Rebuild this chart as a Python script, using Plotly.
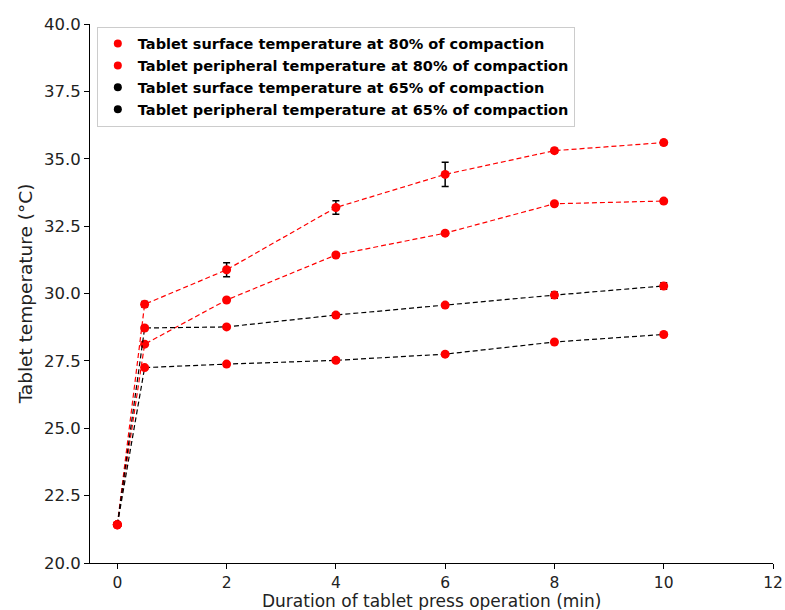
import plotly.graph_objects as go

# Sampling times (min)
time_min = [0, 0.5, 2, 4, 6, 8, 10]

# Mean temperatures (°C) and standard deviations
surface_80 = [21.42, 29.60, 30.88, 33.19, 34.42, 35.30, 35.60]
surface_80_sd = [0.05, 0.10, 0.26, 0.25, 0.45, 0.08, 0.08]

peripheral_80 = [21.42, 28.12, 29.76, 31.43, 32.24, 33.33, 33.43]
peripheral_80_sd = [0.05, 0.07, 0.07, 0.06, 0.06, 0.07, 0.07]

surface_65 = [21.42, 28.72, 28.76, 29.20, 29.57, 29.94, 30.28]
surface_65_sd = [0.05, 0.08, 0.07, 0.07, 0.06, 0.12, 0.12]

peripheral_65 = [21.42, 27.25, 27.38, 27.52, 27.75, 28.20, 28.48]
peripheral_65_sd = [0.05, 0.06, 0.06, 0.07, 0.06, 0.06, 0.06]

legend_names = [
    "Tablet surface temperature at 80% of compaction",
    "Tablet peripheral temperature at 80% of compaction",
    "Tablet surface temperature at 65% of compaction",
    "Tablet peripheral temperature at 65% of compaction",
]

x_title = "Duration of tablet press operation (min)"
y_title = "Tablet temperature (°C)"

series = [
    (surface_80, surface_80_sd, "red"),
    (peripheral_80, peripheral_80_sd, "red"),
    (surface_65, surface_65_sd, "black"),
    (peripheral_65, peripheral_65_sd, "black"),
]

fig = go.Figure()

for values, sd, line_color in series:
    fig.add_trace(go.Scatter(
        x=time_min, y=values,
        mode="lines+markers",
        line=dict(color=line_color, width=1.2, dash="5px,3px"),
        marker=dict(color="red", size=9, line=dict(width=0)),
        error_y=dict(type="data", array=sd, visible=True,
                     color="black", thickness=1.5, width=3.5),
        showlegend=False,
    ))

# Legend entries: marker only
for name, (_, _, line_color) in zip(legend_names, series):
    fig.add_trace(go.Scatter(
        x=[None], y=[None], mode="markers", name=name,
        marker=dict(color=line_color, size=8),
    ))

axis_common = dict(
    showline=True, linecolor="black", linewidth=1,
    ticks="outside", ticklen=5, tickwidth=1, tickcolor="black",
    showgrid=False, zeroline=False, automargin=False,
)

fig.update_layout(
    width=785, height=610,
    margin=dict(l=90, r=12, t=24, b=47),
    plot_bgcolor="white", paper_bgcolor="white",
    font=dict(family="DejaVu Sans", color="#222"),
    xaxis=dict(range=[-0.5, 12], tickvals=[0, 2, 4, 6, 8, 10, 12],
               tickfont=dict(family="DejaVu Sans", size=15.5, color="#222"),
               **axis_common),
    yaxis=dict(range=[20, 40], tickvals=[20, 22.5, 25, 27.5, 30, 32.5, 35, 37.5, 40],
               tickformat=".1f",
               tickfont=dict(family="DejaVu Sans", size=16.5, color="#222"),
               title=dict(text=y_title, font=dict(size=18.5), standoff=6),
               **axis_common),
    legend=dict(
        x=0.01, y=0.995, xanchor="left", yanchor="top",
        bgcolor="rgba(255,255,255,0.8)", bordercolor="#cccccc", borderwidth=1,
        font=dict(family="DejaVu Sans", size=14.5, color="black", weight="bold"),
        itemwidth=30, tracegroupgap=0,
    ),
)

# x-axis title sits just under the tick labels
fig.add_annotation(
    text=x_title, xref="paper", yref="paper", x=0.5, y=-0.0475,
    xanchor="center", yanchor="top", showarrow=False,
    font=dict(family="DejaVu Sans", size=17, color="#222"),
)

fig.write_html("out.html")
